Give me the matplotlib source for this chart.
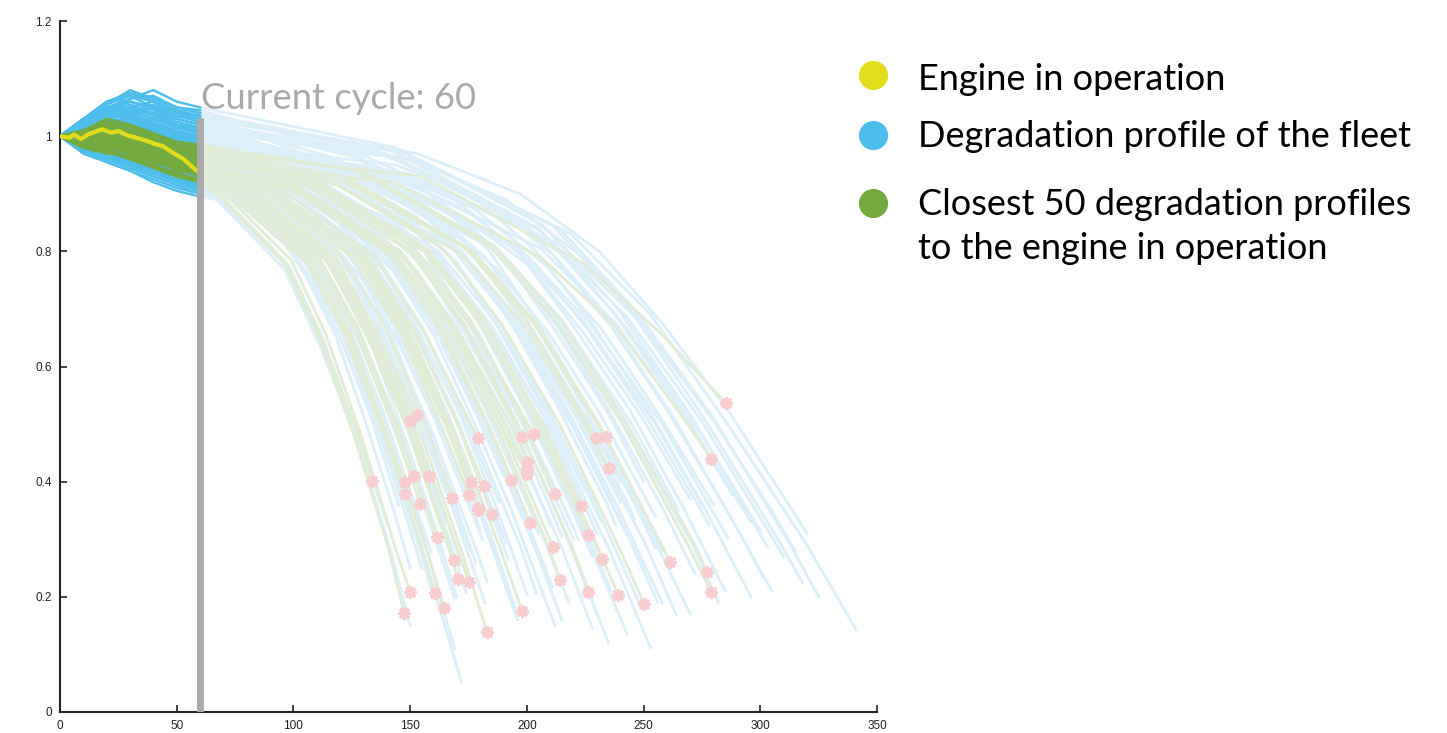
import matplotlib.pyplot as plt

# ciclo actual del motor en operacion
CURRENT_CYCLE = 60

# tramo inicial (0-60) de cada perfil, leido cada 10 ciclos
early_cycles = [0, 10, 20, 30, 40, 50, 60]

# motor en operacion (amarillo)
yellow_cycles = [0, 4, 6, 9, 12, 18, 22, 25, 29, 32, 37, 41, 44, 48, 53, 58, 60]
yellow_values = [1.0, 0.997, 1.003, 0.995, 1.003, 1.012, 1.006, 1.009, 1.001, 0.998,
                 0.992, 0.986, 0.983, 0.972, 0.960, 0.942, 0.935]

# 50 perfiles mas cercanos (verde)
green_early = [
    [1.0, 1.01, 1.02, 1.00, 0.99, 0.97, 0.975],
    [1.0, 0.99, 1.01, 0.99, 0.98, 0.96, 0.955],
    [1.0, 0.99, 0.985, 0.975, 0.96, 0.945, 0.93],
    [1.0, 1.0, 1.005, 0.985, 0.97, 0.955, 0.94],
    [1.0, 0.98, 0.99, 0.97, 0.965, 0.95, 0.945],
    [1.0, 1.005, 1.02, 1.0, 0.985, 0.97, 0.96],
    [1.0, 0.995, 0.99, 1.0, 0.975, 0.965, 0.95],
    [1.0, 1.01, 1.03, 1.02, 1.0, 0.99, 0.98],
    [1.0, 0.99, 1.0, 0.985, 0.99, 0.97, 0.965],
    [1.0, 1.0, 1.015, 1.005, 0.98, 0.975, 0.96],
    [1.0, 0.985, 0.975, 0.99, 0.97, 0.955, 0.945],
    [1.0, 1.01, 1.0, 0.98, 0.985, 0.96, 0.955],
    [1.0, 0.995, 1.005, 0.995, 0.975, 0.97, 0.95],
    [1.0, 0.985, 0.975, 0.96, 0.95, 0.935, 0.925],
    [1.0, 0.99, 0.995, 0.975, 0.955, 0.945, 0.93],
    [1.0, 1.0, 0.985, 0.98, 0.97, 0.95, 0.94],
    [1.0, 0.995, 1.01, 0.99, 0.975, 0.96, 0.945],
    [1.0, 0.98, 0.97, 0.965, 0.95, 0.93, 0.925],
    [1.0, 1.0, 1.01, 0.995, 0.98, 0.96, 0.955],
    [1.0, 0.99, 0.98, 0.985, 0.965, 0.955, 0.94],
    [1.0, 1.005, 1.02, 1.01, 0.995, 0.98, 0.97],
    [1.0, 0.99, 0.985, 0.97, 0.96, 0.94, 0.935],
    [1.0, 1.0, 0.995, 0.98, 0.975, 0.96, 0.95],
    [1.0, 0.985, 0.99, 0.975, 0.965, 0.945, 0.94],
    [1.0, 1.01, 1.015, 1.0, 0.99, 0.97, 0.96],
    [1.0, 0.99, 0.995, 0.99, 0.97, 0.96, 0.945],
    [1.0, 0.995, 0.98, 0.975, 0.96, 0.955, 0.945],
    [1.0, 1.0, 1.02, 1.005, 1.0, 0.985, 0.97],
    [1.0, 1.01, 1.0, 0.995, 0.985, 0.975, 0.965],
    [1.0, 0.99, 1.0, 0.985, 0.97, 0.96, 0.95],
    [1.0, 0.985, 0.99, 0.97, 0.955, 0.945, 0.935],
    [1.0, 1.0, 1.01, 1.0, 0.99, 0.975, 0.965],
    [1.0, 0.995, 0.985, 0.99, 0.975, 0.96, 0.955],
    [1.0, 0.99, 0.98, 0.975, 0.965, 0.95, 0.94],
    [1.0, 1.005, 1.015, 1.0, 0.995, 0.98, 0.97],
    [1.0, 1.0, 1.005, 1.01, 0.99, 0.985, 0.975],
    [1.0, 1.01, 1.025, 1.015, 1.0, 0.99, 0.98],
    [1.0, 0.99, 0.985, 0.98, 0.96, 0.95, 0.945],
    [1.0, 1.0, 0.995, 0.985, 0.97, 0.955, 0.95],
    [1.0, 0.995, 1.005, 0.99, 0.98, 0.965, 0.955],
    [1.0, 0.985, 0.975, 0.965, 0.95, 0.935, 0.925],
    [1.0, 0.99, 0.985, 0.975, 0.96, 0.94, 0.935],
    [1.0, 1.0, 1.01, 0.995, 0.985, 0.975, 0.965],
    [1.0, 1.005, 1.0, 1.0, 0.99, 0.975, 0.97],
    [1.0, 1.01, 1.02, 1.02, 1.005, 0.99, 0.985],
    [1.0, 0.985, 0.98, 0.97, 0.955, 0.945, 0.935],
    [1.0, 0.995, 1.0, 0.985, 0.975, 0.96, 0.955],
    [1.0, 1.0, 1.015, 1.005, 0.995, 0.98, 0.97],
    [1.0, 0.98, 0.975, 0.96, 0.945, 0.93, 0.92],
    [1.0, 0.99, 0.99, 0.98, 0.965, 0.95, 0.945],
]
green_knot_cycles = [
    [155, 224, 258], [143, 206, 238, 269], [80, 115, 133], [82, 118, 137],
    [94, 135, 156], [104, 150, 173], [106, 153, 177], [120, 173, 200],
    [122, 176, 203], [119, 172, 199, 225], [102, 148, 170, 193], [101, 146, 169, 191],
    [101, 146, 168, 190], [67, 97, 112, 127], [74, 107, 123, 139], [77, 111, 128, 145],
    [80, 115, 133, 150], [73, 106, 122, 139], [88, 127, 147, 167], [90, 131, 151, 171],
    [97, 140, 161, 183], [76, 110, 127, 144], [83, 120, 139, 157], [87, 125, 145, 164],
    [88, 127, 146, 166], [88, 127, 146, 166], [90, 131, 151, 171], [105, 152, 176, 199],
    [109, 158, 182, 207], [98, 141, 163, 184], [77, 111, 128, 145], [108, 156, 180, 204],
    [100, 144, 167, 189], [79, 114, 132, 150], [109, 157, 182, 206], [122, 177, 204, 231],
    [129, 186, 215, 243, 272], [79, 114, 131, 149, 166], [81, 116, 134, 152, 170],
    [99, 143, 165, 187, 209], [68, 99, 114, 129, 144], [73, 106, 122, 139, 155],
    [104, 150, 173, 196, 219], [109, 157, 182, 206, 230], [127, 184, 212, 241, 269],
    [74, 107, 124, 140, 157], [89, 129, 149, 168, 188], [113, 164, 189, 214, 239],
    [67, 96, 111, 126, 141], [81, 118, 136, 154, 172],
]
green_knot_values = [
    [0.93, 0.78, 0.655], [0.92, 0.79, 0.67, 0.50], [0.90, 0.78, 0.64], [0.91, 0.79, 0.65],
    [0.91, 0.79, 0.66], [0.92, 0.80, 0.67], [0.915, 0.795, 0.665], [0.93, 0.81, 0.68],
    [0.92, 0.80, 0.675], [0.915, 0.795, 0.67, 0.50], [0.905, 0.79, 0.665, 0.50],
    [0.91, 0.795, 0.67, 0.495], [0.915, 0.80, 0.67, 0.49], [0.905, 0.78, 0.65, 0.49],
    [0.90, 0.785, 0.66, 0.49], [0.91, 0.79, 0.665, 0.495], [0.91, 0.79, 0.665, 0.495],
    [0.895, 0.78, 0.655, 0.48], [0.915, 0.80, 0.675, 0.50], [0.905, 0.79, 0.665, 0.495],
    [0.925, 0.805, 0.675, 0.50], [0.90, 0.78, 0.655, 0.485], [0.915, 0.795, 0.67, 0.495],
    [0.905, 0.79, 0.665, 0.49], [0.92, 0.80, 0.675, 0.50], [0.91, 0.79, 0.665, 0.49],
    [0.91, 0.795, 0.67, 0.495], [0.925, 0.805, 0.68, 0.50], [0.92, 0.80, 0.675, 0.50],
    [0.91, 0.795, 0.67, 0.495], [0.90, 0.785, 0.66, 0.49], [0.92, 0.80, 0.675, 0.50],
    [0.91, 0.795, 0.67, 0.495], [0.905, 0.785, 0.66, 0.49], [0.925, 0.805, 0.68, 0.50],
    [0.93, 0.80, 0.675, 0.50], [0.94, 0.81, 0.68, 0.50, 0.29],
    [0.905, 0.785, 0.66, 0.49, 0.29], [0.91, 0.79, 0.665, 0.49, 0.285],
    [0.915, 0.795, 0.67, 0.495, 0.29], [0.91, 0.785, 0.655, 0.48, 0.28],
    [0.905, 0.785, 0.66, 0.485, 0.285], [0.92, 0.80, 0.675, 0.50, 0.29],
    [0.925, 0.80, 0.675, 0.50, 0.29], [0.94, 0.81, 0.68, 0.50, 0.29],
    [0.90, 0.785, 0.66, 0.485, 0.285], [0.915, 0.795, 0.67, 0.495, 0.29],
    [0.93, 0.805, 0.675, 0.50, 0.29], [0.90, 0.78, 0.65, 0.48, 0.28],
    [0.91, 0.79, 0.66, 0.49, 0.28],
]
# fin de cada perfil verde (asteriscos)
green_end_cycle = [285.3, 278.9, 150.0, 153.0, 179.1, 197.9, 203.1, 229.6, 233.9, 235.2,
                   200.1, 200.1, 200.1, 133.7, 147.8, 151.7, 158.1, 147.8, 176.1, 181.7,
                   193.2, 154.2, 168.0, 175.2, 179.1, 179.1, 185.1, 212.1, 223.2, 201.4,
                   161.5, 226.2, 211.2, 168.8, 232.2, 261.4, 277.2, 170.5, 175.2, 214.2,
                   150.0, 160.7, 226.2, 239.1, 278.9, 164.5, 197.9, 250.2, 147.4, 182.9]
green_end_value = [0.536, 0.440, 0.506, 0.515, 0.475, 0.478, 0.482, 0.475, 0.477, 0.423,
                   0.435, 0.424, 0.414, 0.402, 0.400, 0.410, 0.410, 0.379, 0.400, 0.393,
                   0.403, 0.362, 0.372, 0.376, 0.355, 0.350, 0.344, 0.379, 0.358, 0.329,
                   0.304, 0.308, 0.287, 0.264, 0.266, 0.261, 0.243, 0.231, 0.226, 0.230,
                   0.209, 0.207, 0.209, 0.203, 0.209, 0.181, 0.176, 0.188, 0.172, 0.139]

# perfiles de la flota (azul)
blue_early = [
    [1.0, 0.98, 0.965, 0.95, 0.935, 0.92, 0.905],
    [1.0, 0.99, 0.97, 0.955, 0.95, 0.93, 0.92],
    [1.0, 1.02, 1.03, 1.01, 0.995, 0.985, 0.975],
    [1.0, 0.975, 0.96, 0.95, 0.94, 0.925, 0.91],
    [1.0, 1.01, 1.04, 1.03, 1.01, 0.995, 0.99],
    [1.0, 0.985, 0.975, 0.96, 0.955, 0.94, 0.925],
    [1.0, 1.02, 1.05, 1.04, 1.02, 1.01, 1.0],
    [1.0, 0.99, 0.975, 0.97, 0.95, 0.935, 0.93],
    [1.0, 1.03, 1.06, 1.07, 1.05, 1.03, 1.02],
    [1.0, 0.97, 0.955, 0.94, 0.925, 0.91, 0.90],
    [1.0, 1.0, 0.985, 0.99, 0.97, 0.955, 0.945],
    [1.0, 1.02, 1.035, 1.02, 1.01, 0.995, 0.985],
    [1.0, 1.03, 1.05, 1.06, 1.045, 1.03, 1.02],
    [1.0, 1.02, 1.04, 1.075, 1.06, 1.04, 1.035],
    [1.0, 1.015, 1.03, 1.05, 1.04, 1.02, 1.01],
    [1.0, 1.01, 1.02, 1.035, 1.02, 1.005, 0.995],
    [1.0, 1.025, 1.045, 1.065, 1.08, 1.06, 1.05],
    [1.0, 1.01, 1.0, 1.02, 1.015, 1.0, 0.99],
    [1.0, 0.99, 1.0, 0.985, 0.97, 0.96, 0.95],
    [1.0, 0.985, 0.97, 0.955, 0.945, 0.935, 0.92],
    [1.0, 1.02, 1.04, 1.03, 1.015, 1.005, 0.995],
    [1.0, 1.03, 1.055, 1.08, 1.065, 1.05, 1.04],
    [1.0, 1.005, 1.025, 1.01, 1.0, 0.99, 0.98],
    [1.0, 0.97, 0.955, 0.94, 0.92, 0.905, 0.895],
    [1.0, 0.98, 0.96, 0.955, 0.94, 0.92, 0.91],
    [1.0, 0.99, 1.0, 0.98, 0.965, 0.95, 0.94],
    [1.0, 1.015, 1.03, 1.005, 0.99, 0.98, 0.97],
    [1.0, 0.975, 0.96, 0.95, 0.935, 0.925, 0.915],
    [1.0, 0.99, 0.975, 0.965, 0.945, 0.93, 0.925],
    [1.0, 0.975, 0.96, 0.945, 0.93, 0.915, 0.90],
    [1.0, 0.985, 0.98, 0.96, 0.95, 0.93, 0.915],
    [1.0, 1.01, 1.025, 1.015, 1.0, 0.99, 0.985],
    [1.0, 1.02, 1.01, 1.025, 1.01, 1.0, 0.99],
    [1.0, 0.98, 0.985, 0.965, 0.955, 0.94, 0.93],
    [1.0, 1.025, 1.045, 1.035, 1.02, 1.005, 1.0],
    [1.0, 1.0, 1.02, 1.03, 1.015, 1.005, 1.0],
    [1.0, 1.02, 1.04, 1.035, 1.05, 1.035, 1.025],
    [1.0, 1.0, 1.015, 1.005, 0.995, 0.98, 0.975],
    [1.0, 0.985, 0.99, 0.98, 0.965, 0.955, 0.945],
    [1.0, 1.01, 1.03, 1.045, 1.03, 1.015, 1.005],
    [1.0, 0.975, 0.97, 0.955, 0.94, 0.925, 0.915],
    [1.0, 1.0, 0.985, 1.0, 0.98, 0.965, 0.955],
    [1.0, 0.985, 0.97, 0.96, 0.945, 0.935, 0.92],
    [1.0, 1.015, 1.035, 1.05, 1.06, 1.045, 1.035],
    [1.0, 1.0, 1.01, 1.02, 1.01, 1.0, 0.995],
    [1.0, 0.99, 0.975, 0.98, 0.96, 0.95, 0.94],
    [1.0, 1.02, 1.005, 1.01, 0.995, 0.985, 0.975],
    [1.0, 0.98, 0.99, 0.97, 0.955, 0.945, 0.935],
    [1.0, 1.005, 0.995, 0.985, 0.97, 0.95, 0.945],
    [1.0, 1.01, 1.0, 1.015, 1.0, 0.99, 0.985],
    [1.0, 0.98, 0.97, 0.955, 0.94, 0.925, 0.915],
    [1.0, 0.995, 0.985, 0.97, 0.96, 0.945, 0.93],
    [1.0, 0.99, 0.975, 0.965, 0.955, 0.935, 0.925],
    [1.0, 1.01, 1.02, 1.0, 0.99, 0.975, 0.965],
    [1.0, 0.985, 0.99, 0.975, 0.96, 0.95, 0.94],
    [1.0, 1.02, 1.03, 1.025, 1.01, 0.995, 0.985],
    [1.0, 0.975, 0.965, 0.95, 0.935, 0.92, 0.905],
    [1.0, 1.0, 1.01, 0.99, 0.985, 0.97, 0.96],
    [1.0, 1.025, 1.05, 1.045, 1.03, 1.015, 1.005],
    [1.0, 0.99, 0.98, 0.985, 0.965, 0.955, 0.945],
    [1.0, 0.985, 0.97, 0.96, 0.945, 0.93, 0.92],
    [1.0, 1.015, 1.035, 1.03, 1.02, 1.0, 0.995],
    [1.0, 1.005, 0.995, 1.005, 0.99, 0.98, 0.97],
    [1.0, 0.98, 0.975, 0.96, 0.95, 0.94, 0.93],
    [1.0, 1.03, 1.06, 1.075, 1.065, 1.05, 1.04],
    [1.0, 1.0, 0.99, 0.995, 0.975, 0.965, 0.955],
    [1.0, 1.02, 1.04, 1.05, 1.035, 1.02, 1.015],
    [1.0, 0.985, 0.975, 0.97, 0.955, 0.94, 0.935],
    [1.0, 1.01, 1.025, 1.01, 1.0, 0.99, 0.98],
    [1.0, 1.02, 1.045, 1.06, 1.05, 1.035, 1.03],
    [1.0, 0.995, 1.005, 0.99, 0.98, 0.965, 0.96],
    [1.0, 1.015, 1.03, 1.02, 1.01, 1.0, 0.99],
    [1.0, 1.025, 1.05, 1.065, 1.07, 1.05, 1.045],
    [1.0, 0.99, 0.995, 0.98, 0.97, 0.96, 0.95],
    [1.0, 1.01, 1.03, 1.04, 1.025, 1.01, 1.0],
    [1.0, 1.0, 1.015, 1.0, 0.995, 0.98, 0.975],
    [1.0, 1.02, 1.04, 1.055, 1.04, 1.03, 1.02],
    [1.0, 1.0, 0.99, 1.0, 0.985, 0.975, 0.965],
    [1.0, 1.03, 1.055, 1.07, 1.06, 1.045, 1.035],
    [1.0, 1.005, 1.02, 1.015, 1.0, 0.99, 0.985],
    [1.0, 1.015, 1.035, 1.045, 1.04, 1.025, 1.015],
    [1.0, 1.02, 1.01, 1.02, 1.005, 0.995, 0.99],
    [1.0, 1.01, 1.03, 1.02, 1.03, 1.015, 1.01],
    [1.0, 1.025, 1.05, 1.04, 1.055, 1.04, 1.03],
    [1.0, 0.98, 0.985, 0.965, 0.955, 0.94, 0.93],
    [1.0, 1.005, 1.02, 1.01, 0.995, 0.985, 0.975],
    [1.0, 0.99, 0.98, 0.97, 0.965, 0.95, 0.94],
    [1.0, 1.01, 1.0, 0.99, 0.985, 0.975, 0.97],
    [1.0, 1.02, 1.04, 1.03, 1.02, 1.005, 1.0],
    [1.0, 0.995, 1.0, 0.99, 0.975, 0.965, 0.955],
    [1.0, 0.975, 0.96, 0.945, 0.93, 0.915, 0.90],
    [1.0, 1.0, 0.99, 0.985, 0.97, 0.96, 0.95],
    [1.0, 0.99, 0.975, 0.98, 0.96, 0.945, 0.935],
    [1.0, 1.015, 1.04, 1.06, 1.05, 1.04, 1.03],
    [1.0, 0.995, 1.01, 1.0, 0.99, 0.98, 0.975],
    [1.0, 0.985, 0.97, 0.965, 0.95, 0.94, 0.93],
    [1.0, 1.01, 1.02, 1.03, 1.015, 1.005, 0.995],
    [1.0, 0.98, 0.965, 0.95, 0.94, 0.925, 0.91],
    [1.0, 1.0, 1.01, 0.995, 0.98, 0.97, 0.96],
    [1.0, 1.02, 1.035, 1.045, 1.03, 1.02, 1.01],
]
blue_knot_cycles = [
    [74, 107, 123, 139, 156], [74, 107, 124, 140, 157], [82, 119, 137, 156, 174],
    [77, 111, 128, 145, 162], [90, 131, 151, 171], [93, 135, 155, 176, 197],
    [97, 140, 161, 183, 204], [102, 147, 170, 192, 215], [108, 155, 179, 203, 227],
    [84, 122, 140, 159, 178], [80, 115, 133, 150, 168], [104, 150, 173, 196, 219],
    [139, 201, 232, 263, 294], [146, 211, 244, 276, 309], [152, 219, 253, 286, 320],
    [136, 197, 227, 258], [144, 207, 239, 271], [128, 185, 214, 242, 271],
    [119, 172, 198, 224, 251], [111, 161, 185, 210, 235], [116, 168, 194, 219, 245],
    [142, 205, 237, 269], [143, 206, 238, 269], [67, 96, 111], [72, 105, 121, 137],
    [75, 108, 125, 141], [86, 124, 143, 162], [96, 139, 161, 182, 203],
    [73, 105, 122, 138, 154], [67, 97, 112, 127, 142], [68, 98, 113, 128],
    [88, 127, 147, 167, 186], [96, 139, 161, 182, 203], [108, 156, 180, 204, 228],
    [117, 168, 194, 220], [129, 186, 215, 243], [143, 206, 238, 269],
    [146, 211, 243, 275], [130, 187, 216, 245], [120, 174, 200, 227],
    [105, 151, 175, 198], [88, 127, 146, 166, 185], [83, 120, 138, 156],
    [148, 214, 247, 280, 313], [149, 215, 248, 281], [122, 176, 203, 230],
    [112, 162, 187, 212], [97, 140, 162, 184], [80, 116, 134, 151],
    [135, 195, 225, 255],
    [70, 90, 105, 118, 130, 143], [72, 93, 109, 122, 134, 147],
    [76, 97, 114, 128, 141], [77, 100, 117, 131, 144, 158],
    [80, 103, 121, 135, 150, 164], [83, 107, 126, 141, 155, 170],
    [86, 110, 129, 144, 160], [88, 113, 133, 148, 164, 179],
    [90, 116, 136, 152, 168, 184], [92, 119, 139, 156, 172],
    [95, 122, 143, 160, 176, 193], [97, 125, 146, 163, 181],
    [99, 128, 150, 167, 185, 202], [101, 131, 153, 171, 189, 207],
    [104, 133, 156, 175, 193, 212], [106, 136, 160, 179, 197, 216],
    [108, 139, 163, 182, 202, 221], [110, 142, 167, 186, 206, 225],
    [113, 145, 170, 190, 210, 230], [115, 148, 173, 194, 214, 235],
    [117, 151, 177, 198, 218, 239], [119, 154, 180, 201, 223, 244],
    [122, 157, 184, 205, 227, 248], [124, 160, 187, 209, 231, 253],
    [126, 162, 190, 213, 235, 258], [128, 165, 194, 217, 239],
    [131, 168, 197, 220, 244, 267], [133, 171, 201, 224, 248],
    [135, 174, 204, 228, 252, 276], [137, 177, 207, 232, 256],
    [140, 180, 211, 236, 260, 285], [144, 186, 218, 243, 269, 294],
    [149, 191, 224, 251, 277, 304], [153, 197, 231, 258, 286, 313],
    [82, 106, 124, 138, 153], [89, 115, 135, 150, 166, 182],
    [95, 123, 144, 161, 178], [103, 132, 155, 173, 192, 210],
    [112, 144, 169, 188, 208], [118, 152, 178, 199, 220],
    [79, 102, 120, 134, 148], [86, 111, 131, 146, 161, 177],
    [74, 96, 112, 125, 139, 152], [125, 161, 189, 211, 234],
    [134, 173, 203, 226, 250, 274], [98, 126, 148, 166, 183, 201],
    [107, 138, 162, 181, 200, 219], [71, 92, 107, 120, 133],
    [91, 118, 138, 154, 171, 187], [121, 155, 182, 204, 225, 247],
]
blue_knot_values = [
    [0.90, 0.78, 0.65, 0.47, 0.27], [0.91, 0.785, 0.655, 0.48, 0.28],
    [0.92, 0.80, 0.67, 0.495, 0.285], [0.905, 0.785, 0.66, 0.49, 0.285],
    [0.92, 0.80, 0.675, 0.50], [0.915, 0.795, 0.67, 0.495, 0.29],
    [0.945, 0.815, 0.675, 0.50, 0.29], [0.915, 0.795, 0.67, 0.495, 0.285],
    [0.96, 0.83, 0.69, 0.50, 0.29], [0.91, 0.79, 0.665, 0.49, 0.285],
    [0.905, 0.79, 0.66, 0.49, 0.285], [0.925, 0.80, 0.675, 0.50, 0.29],
    [0.97, 0.84, 0.70, 0.51, 0.29], [0.975, 0.845, 0.70, 0.51, 0.29],
    [0.96, 0.83, 0.69, 0.50, 0.29], [0.93, 0.805, 0.675, 0.50],
    [0.98, 0.845, 0.70, 0.51], [0.93, 0.805, 0.675, 0.50, 0.29],
    [0.92, 0.80, 0.675, 0.50, 0.29], [0.915, 0.795, 0.67, 0.495, 0.285],
    [0.925, 0.805, 0.675, 0.50, 0.29], [0.975, 0.84, 0.695, 0.51],
    [0.93, 0.805, 0.675, 0.50], [0.89, 0.77, 0.64], [0.90, 0.78, 0.655, 0.485],
    [0.905, 0.785, 0.66, 0.49], [0.915, 0.795, 0.67, 0.495],
    [0.915, 0.795, 0.67, 0.495, 0.29], [0.90, 0.78, 0.655, 0.485, 0.285],
    [0.895, 0.775, 0.645, 0.475, 0.275], [0.895, 0.775, 0.645, 0.475],
    [0.92, 0.80, 0.675, 0.50, 0.29], [0.925, 0.80, 0.675, 0.50, 0.29],
    [0.92, 0.80, 0.675, 0.50, 0.29], [0.945, 0.815, 0.68, 0.50],
    [0.93, 0.81, 0.68, 0.50], [0.965, 0.835, 0.69, 0.505], [0.935, 0.815, 0.685, 0.505],
    [0.93, 0.805, 0.675, 0.50], [0.95, 0.815, 0.68, 0.50], [0.92, 0.80, 0.675, 0.50],
    [0.915, 0.795, 0.67, 0.495, 0.29], [0.91, 0.79, 0.665, 0.49],
    [0.97, 0.84, 0.695, 0.51, 0.29], [0.935, 0.81, 0.68, 0.50],
    [0.925, 0.80, 0.675, 0.50], [0.92, 0.80, 0.675, 0.50], [0.915, 0.795, 0.67, 0.495],
    [0.905, 0.785, 0.66, 0.49], [0.93, 0.805, 0.675, 0.50],
    [0.905, 0.85, 0.76, 0.655, 0.515, 0.35], [0.91, 0.855, 0.765, 0.655, 0.52, 0.355],
    [0.905, 0.85, 0.76, 0.655, 0.515], [0.925, 0.865, 0.775, 0.665, 0.52, 0.355],
    [0.915, 0.855, 0.765, 0.66, 0.52, 0.355], [0.935, 0.875, 0.78, 0.665, 0.52, 0.355],
    [0.895, 0.84, 0.755, 0.65, 0.515], [0.92, 0.86, 0.77, 0.66, 0.52, 0.355],
    [0.95, 0.885, 0.79, 0.67, 0.525, 0.355], [0.915, 0.855, 0.765, 0.66, 0.52],
    [0.905, 0.85, 0.765, 0.655, 0.515, 0.355], [0.94, 0.875, 0.785, 0.665, 0.52],
    [0.925, 0.865, 0.775, 0.66, 0.52, 0.355], [0.91, 0.855, 0.765, 0.655, 0.515, 0.355],
    [0.97, 0.90, 0.80, 0.675, 0.525, 0.355], [0.92, 0.86, 0.77, 0.66, 0.52, 0.355],
    [0.955, 0.89, 0.79, 0.67, 0.525, 0.355], [0.91, 0.855, 0.765, 0.655, 0.52, 0.355],
    [0.935, 0.87, 0.78, 0.665, 0.52, 0.355], [0.965, 0.895, 0.795, 0.67, 0.525, 0.355],
    [0.925, 0.865, 0.775, 0.66, 0.52, 0.355], [0.94, 0.875, 0.78, 0.665, 0.52, 0.355],
    [0.975, 0.905, 0.80, 0.675, 0.525, 0.355], [0.925, 0.86, 0.77, 0.66, 0.52, 0.355],
    [0.95, 0.885, 0.79, 0.67, 0.525, 0.355], [0.935, 0.87, 0.775, 0.665, 0.52],
    [0.965, 0.895, 0.795, 0.67, 0.525, 0.355], [0.93, 0.865, 0.775, 0.66, 0.52],
    [0.975, 0.905, 0.80, 0.675, 0.525, 0.355], [0.945, 0.875, 0.78, 0.665, 0.52],
    [0.965, 0.895, 0.795, 0.67, 0.525, 0.355], [0.95, 0.88, 0.785, 0.665, 0.52, 0.355],
    [0.96, 0.89, 0.79, 0.67, 0.525, 0.355], [0.97, 0.90, 0.80, 0.675, 0.525, 0.355],
    [0.905, 0.85, 0.76, 0.655, 0.515], [0.93, 0.87, 0.775, 0.66, 0.52, 0.355],
    [0.915, 0.855, 0.765, 0.66, 0.52], [0.925, 0.865, 0.775, 0.66, 0.52, 0.355],
    [0.945, 0.88, 0.785, 0.665, 0.52], [0.925, 0.86, 0.77, 0.66, 0.52],
    [0.895, 0.845, 0.755, 0.65, 0.515], [0.915, 0.855, 0.765, 0.655, 0.52, 0.355],
    [0.905, 0.85, 0.76, 0.655, 0.515, 0.35], [0.965, 0.895, 0.795, 0.67, 0.525],
    [0.94, 0.875, 0.78, 0.665, 0.52, 0.355], [0.91, 0.855, 0.765, 0.655, 0.52, 0.355],
    [0.94, 0.875, 0.78, 0.665, 0.52, 0.355], [0.895, 0.84, 0.755, 0.65, 0.515],
    [0.92, 0.86, 0.77, 0.66, 0.52, 0.355], [0.955, 0.885, 0.79, 0.67, 0.525, 0.355],
]
blue_end_cycle = [172, 169, 182, 169, 191, 204, 211, 228, 243, 183, 174, 228, 301, 318, 341,
                  286, 303, 282, 264, 253, 256, 288, 285, 128.5, 146, 159, 181, 206, 160, 150,
                  140, 195, 215, 235, 250, 270, 296, 310, 265, 240, 220, 190, 176, 325, 300,
                  258, 232, 200, 165, 275,
                  150, 155, 150, 170, 172, 178, 170, 196, 192, 188, 212, 200, 218, 210, 235,
                  222, 236, 230, 248, 238, 258, 246, 270, 255, 272, 262, 285, 270, 296, 280,
                  305, 300, 315, 320, 165, 185, 190, 215, 225, 240, 160, 180, 158, 250, 278,
                  205, 228, 145, 200, 255]
blue_end_value = [0.052, 0.111, 0.19, 0.198, 0.294, 0.207, 0.217, 0.146, 0.134, 0.226, 0.207,
                  0.195, 0.235, 0.225, 0.143, 0.303, 0.287, 0.191, 0.169, 0.111, 0.191, 0.377,
                  0.403, 0.461, 0.383, 0.278, 0.299, 0.261, 0.2, 0.15, 0.33, 0.18, 0.16, 0.22,
                  0.25, 0.30, 0.33, 0.27, 0.35, 0.40, 0.30, 0.24, 0.28, 0.20, 0.38, 0.28, 0.33,
                  0.34, 0.33, 0.36,
                  0.25, 0.25, 0.415, 0.20, 0.255, 0.26, 0.41, 0.16, 0.265, 0.365, 0.15, 0.33,
                  0.19, 0.325, 0.12, 0.30, 0.21, 0.31, 0.19, 0.325, 0.19, 0.335, 0.17, 0.34,
                  0.24, 0.36, 0.21, 0.37, 0.20, 0.36, 0.21, 0.315, 0.28, 0.31, 0.385, 0.325,
                  0.41, 0.305, 0.385, 0.365, 0.38, 0.315, 0.27, 0.40, 0.325, 0.31, 0.27, 0.36,
                  0.205, 0.285]

legend_labels = ['Engine in operation', 'Degradation profile of the fleet',
                 'Closest 50 degradation profiles\nto the engine in operation']

COLOR_YELLOW = '#e3dc1b'
COLOR_BLUE = '#4dbdec'
COLOR_GREEN = '#74ab3f'
COLOR_BLUE_PALE = '#ddf0fa'
COLOR_GREEN_PALE = '#e2edd8'
COLOR_STAR = '#f9ccd0'
COLOR_GRAY = '#aaaaaa'


def tramo_posterior(v60, knots_c, knots_v, end_c, end_v):
    xs = [CURRENT_CYCLE] + list(knots_c) + [end_c]
    ys = [v60] + list(knots_v) + [end_v]
    return xs, ys


fig = plt.figure(figsize=(14.47, 7.33), dpi=100)
ax = fig.add_axes([60 / 1447, 21 / 733, 817 / 1447, 691 / 733])

# tramos futuros (palidos)
for early, kc, kv, ec, ev in zip(blue_early, blue_knot_cycles, blue_knot_values,
                                 blue_end_cycle, blue_end_value):
    xs, ys = tramo_posterior(early[-1], kc, kv, ec, ev)
    ax.plot(xs, ys, color=COLOR_BLUE_PALE, lw=2.0, zorder=1)
for early, kc, kv, ec, ev in zip(green_early, green_knot_cycles, green_knot_values,
                                 green_end_cycle, green_end_value):
    xs, ys = tramo_posterior(early[-1], kc, kv, ec, ev)
    ax.plot(xs, ys, color=COLOR_GREEN_PALE, lw=2.0, zorder=2)

# tramo observado (0-60)
for early in blue_early:
    ax.plot(early_cycles, early, color=COLOR_BLUE, lw=1.7, zorder=3)
for early in green_early:
    ax.plot(early_cycles, early, color=COLOR_GREEN, lw=1.8, zorder=4)
ax.plot(yellow_cycles, yellow_values, color=COLOR_YELLOW, lw=3, zorder=5)

# fin de vida de los 50 perfiles
ax.plot(green_end_cycle, green_end_value, ls='none', marker=(8, 2, 0), ms=9,
        mec=COLOR_STAR, mew=2.2, zorder=6)

# linea del ciclo actual
ax.plot([CURRENT_CYCLE, CURRENT_CYCLE], [0, 1.031], color=COLOR_GRAY, lw=5,
        solid_capstyle='butt', zorder=7)
ax.text(CURRENT_CYCLE + 0.3, 1.065, f'Current cycle: {CURRENT_CYCLE}', color=COLOR_GRAY,
        fontsize=26.2, family='Lato', va='center', ha='left', zorder=8)

ax.set_xlim(0, 350)
ax.set_ylim(0, 1.2)
ax.set_xticks(range(0, 351, 50))
ax.set_yticks([0, 0.2, 0.4, 0.6, 0.8, 1.0, 1.2])
ax.set_yticklabels(['0', '0.2', '0.4', '0.6', '0.8', '1', '1.2'])
ax.tick_params(direction='in', length=5, width=1.2, labelsize=8.5, colors='#222222',
               pad=6)
for etiqueta in ax.get_xticklabels() + ax.get_yticklabels():
    etiqueta.set_family('Liberation Sans')
for lado in ['top', 'right']:
    ax.spines[lado].set_visible(False)
for lado in ['left', 'bottom']:
    ax.spines[lado].set_linewidth(1.5)
    ax.spines[lado].set_color('#222222')

# leyenda a la derecha
legend_colors = [COLOR_YELLOW, COLOR_BLUE, COLOR_GREEN]
legend_y = [75, 135, 203]
legend_text_top = [63, 120, 188]
for color, y in zip(legend_colors, legend_y):
    fig.lines.append(plt.Line2D([873 / 1447], [1 - y / 733], marker='o', ms=20,
                                color=color, ls='none', transform=fig.transFigure))
for texto, y in zip(legend_labels, legend_text_top):
    fig.text(918 / 1447, 1 - y / 733, texto, fontsize=26, family='Lato',
             va='top', ha='left', linespacing=1.4, color='black')

fig.savefig('out.png', dpi=100)
